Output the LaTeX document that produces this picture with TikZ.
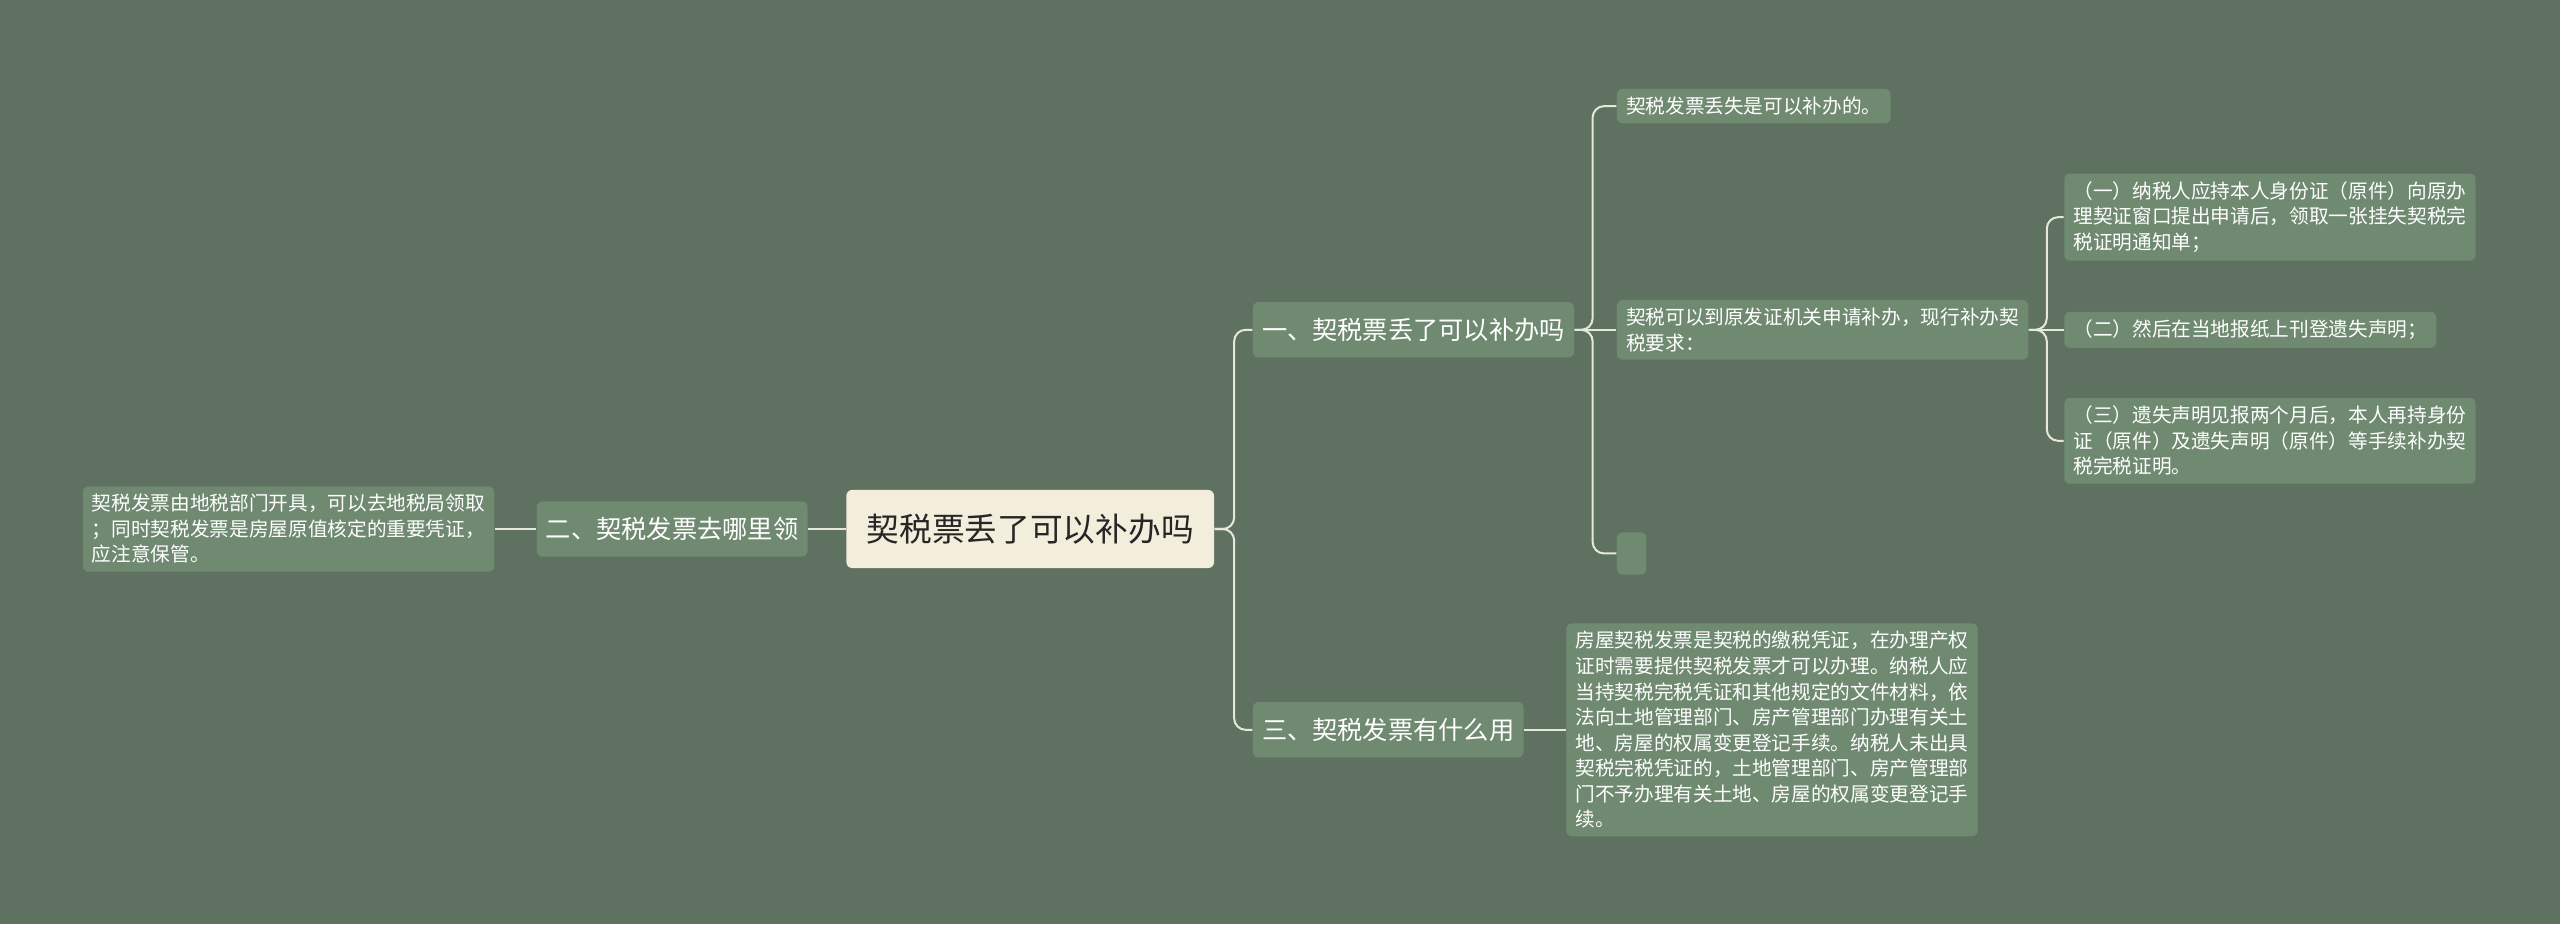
\documentclass[tikz,border=0pt]{standalone}
\usepackage{fontspec}
\setmainfont{Noto Sans CJK SC}
\begin{document}
\begin{tikzpicture}[x=0.02cm,y=-0.02cm,
  base/.style={fill=nodeg,text=white,rounded corners=2pt,inner xsep=3.2pt,inner ysep=2.8pt,align=left},
  small/.style={base,font=\fontsize{6.85}{8.9}\selectfont},
  mid/.style={base,font=\fontsize{8.8}{10.5}\selectfont,inner ysep=4pt},
  conn/.style={draw=linec,line width=0.7pt,rounded corners=4pt}]
\definecolor{bg}{HTML}{5F7262}
\definecolor{nodeg}{HTML}{6F8A70}
\definecolor{rootc}{HTML}{F3EEDC}
\definecolor{linec}{HTML}{E6E8D8}
\fill[bg] (0,0) rectangle (1568,566);
\useasboundingbox (0,0) rectangle (1568,566);
\node[base,fill=rootc,text=black!85,font=\fontsize{11.4}{13}\selectfont,minimum height=48*0.567pt,minimum width=226*0.567pt] (root) at (631,324) {契税票丢了可以补办吗};
\node[mid,anchor=west,minimum height=34*0.567pt] (l1a) at (767,202) {一、契税票丢了可以补办吗};
\node[mid,anchor=east,minimum height=34*0.567pt] (l1b) at (495,324) {二、契税发票去哪里领};
\node[mid,anchor=west,minimum height=34*0.567pt] (l1c) at (767,447) {三、契税发票有什么用};
\node[small,anchor=west] (a1) at (990,65) {契税发票丢失是可以补办的。};
\node[small,anchor=west] (a2) at (990,202) {契税可以到原发证机关申请补办，现行补办契\\税要求：};
\node[small,anchor=west,minimum width=18*0.567pt,minimum height=26*0.567pt] (a3) at (990,339) {};
\node[small,anchor=west] (b1) at (1264,133) {（一）纳税人应持本人身份证（原件）向原办\\理契证窗口提出申请后，领取一张挂失契税完\\税证明通知单；};
\node[small,anchor=west,minimum width=228*0.567pt] (b2) at (1264,202) {（二）然后在当地报纸上刊登遗失声明；};
\node[small,anchor=west] (b3) at (1264,270) {（三）遗失声明见报两个月后，本人再持身份\\证（原件）及遗失声明（原件）等手续补办契\\税完税证明。};
\node[small,anchor=east] (left) at (303,324) {契税发票由地税部门开具，可以去地税局领取\\；同时契税发票是房屋原值核定的重要凭证，\\应注意保管。};
\node[small,anchor=west] (c1) at (959,447) {房屋契税发票是契税的缴税凭证，在办理产权\\证时需要提供契税发票才可以办理。纳税人应\\当持契税完税凭证和其他规定的文件材料，依\\法向土地管理部门、房产管理部门办理有关土\\地、房屋的权属变更登记手续。纳税人未出具\\契税完税凭证的，土地管理部门、房产管理部\\门不予办理有关土地、房屋的权属变更登记手\\续。};
\draw[conn] (root.east) -- ++(12,0) |- (l1a.west);
\draw[conn] (root.east) -- ++(12,0) |- (l1c.west);
\draw[conn] (root.west) -- (l1b.east);
\draw[conn] (l1b.west) -- (left.east);
\draw[conn] (l1c.east) -- (c1.west);
\draw[conn] (l1a.east) -- ++(11,0) |- (a1.west);
\draw[conn] (l1a.east) -- (a2.west);
\draw[conn] (l1a.east) -- ++(11,0) |- (a3.west);
\draw[conn] (a2.east) -- ++(11,0) |- (b1.west);
\draw[conn] (a2.east) -- (b2.west);
\draw[conn] (a2.east) -- ++(11,0) |- (b3.west);
\end{tikzpicture}
\end{document}
